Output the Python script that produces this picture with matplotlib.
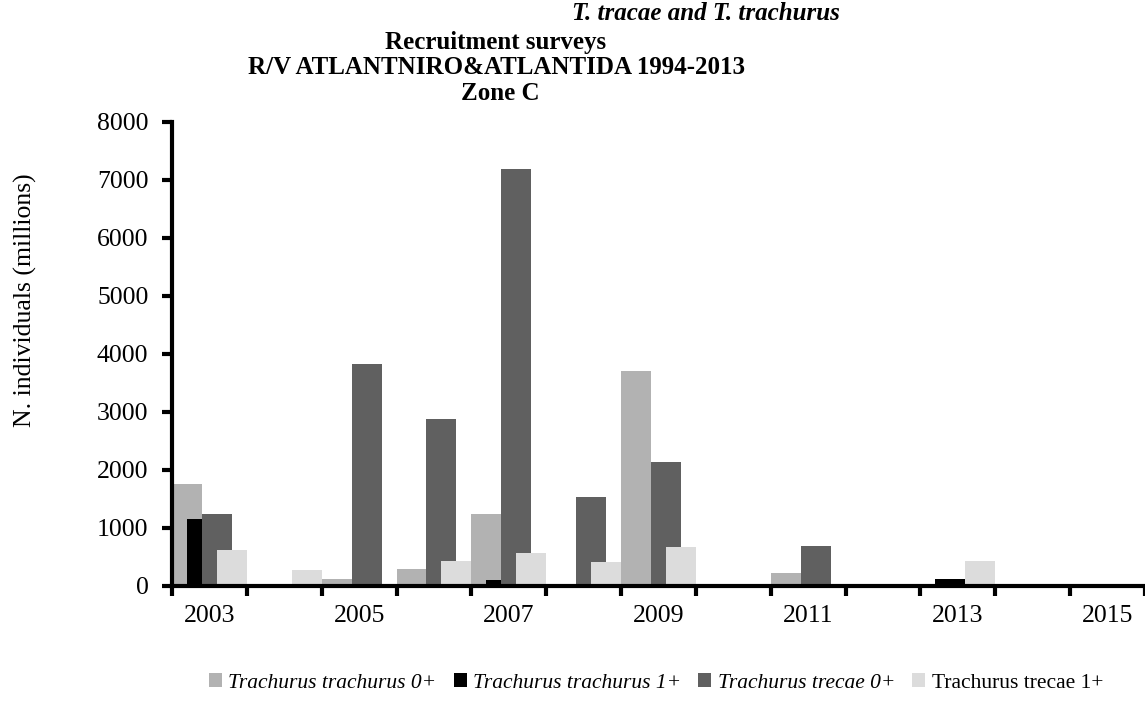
import matplotlib
matplotlib.use("Agg")
import matplotlib.pyplot as plt
import numpy as np

years = [2003, 2004, 2005, 2006, 2007, 2008, 2009, 2010, 2011, 2012, 2013, 2014, 2015]
tt0 = [1760, 0, 120, 290, 1240, 0, 3710, 0, 230, 0, 0, 0, 0]      # Trachurus trachurus 0+
tt1 = [1160, 40, 0, 30, 100, 0, 30, 0, 0, 0, 120, 0, 0]            # Trachurus trachurus 1+
tr0 = [1250, 40, 3830, 2880, 7190, 1540, 2140, 0, 690, 0, 40, 0, 0]  # Trachurus trecae 0+
tr1 = [620, 270, 0, 430, 575, 420, 680, 0, 0, 0, 430, 0, 0]        # Trachurus trecae 1+
series_labels = ["Trachurus trachurus 0+", "Trachurus trachurus 1+",
                 "Trachurus trecae 0+", "Trachurus trecae 1+"]
year_labels = [str(y) if i % 2 == 0 else "" for i, y in enumerate(years)]

colors = ["#B2B2B2", "#000000", "#606060", "#DCDCDC"]

plt.rcParams['font.family'] = ['Liberation Serif', 'DejaVu Serif']

fig = plt.figure(figsize=(11.45, 7.13), dpi=100)
ax = fig.add_axes([172/1145, 1-586/713, (1145-172)/1145, (586-122)/713])

x = np.arange(len(years))
w = 0.4
offsets = [-0.3, -0.1, 0.1, 0.3]
handles = []
for i, (vals, c) in enumerate(zip([tt0, tt1, tr0, tr1], colors)):
    h = ax.bar(x + offsets[i], vals, width=w, color=c, linewidth=0, zorder=2 + i,
               label=series_labels[i])
    handles.append(h)

ax.set_xlim(-0.5, len(years) - 0.5)
ax.set_ylim(0, 8000)
ax.set_yticks(np.arange(0, 8001, 1000))
ax.set_yticklabels([str(v) for v in range(0, 8001, 1000)], fontsize=18.5)

ax.set_xticks(np.arange(-0.5, len(years), 1.0))
ax.set_xticklabels([])
ax.set_xticks(x, minor=True)
ax.set_xticklabels(year_labels, minor=True, fontsize=18.5)
ax.tick_params(axis='x', which='minor', length=0, pad=14)
ax.tick_params(axis='x', which='major', length=7, width=3, direction='out')
ax.tick_params(axis='y', which='major', length=7, width=3, direction='out', pad=10)

for s in ['top', 'right']:
    ax.spines[s].set_visible(False)
for s in ['left', 'bottom']:
    ax.spines[s].set_linewidth(3)
    ax.spines[s].set_zorder(10)

fig.text(25/1145, 1-300/713, "N. individuals (millions)", rotation=90,
         ha='center', va='center', fontsize=18.5)

fig.text(706/1145, 1-13/713, "T. tracae and T. trachurus", ha='center', va='center',
         fontsize=18, fontweight='bold', fontstyle='italic')
fig.text(496/1145, 1-43/713, "Recruitment surveys", ha='center', va='center',
         fontsize=18, fontweight='bold')
fig.text(497/1145, 1-68/713, "R/V ATLANTNIRO&ATLANTIDA 1994-2013", ha='center', va='center',
         fontsize=18, fontweight='bold')
fig.text(500/1145, 1-93/713, "Zone C", ha='center', va='center',
         fontsize=18, fontweight='bold')

leg = fig.legend(handles=handles, loc='center', bbox_to_anchor=(656/1145, 1-683/713),
                 ncol=4, frameon=False, fontsize=15.5, handlelength=0.6, handleheight=0.6,
                 handletextpad=0.3, columnspacing=0.8)
for t in leg.get_texts()[:3]:
    t.set_fontstyle('italic')

fig.savefig("out.png", dpi=100)
